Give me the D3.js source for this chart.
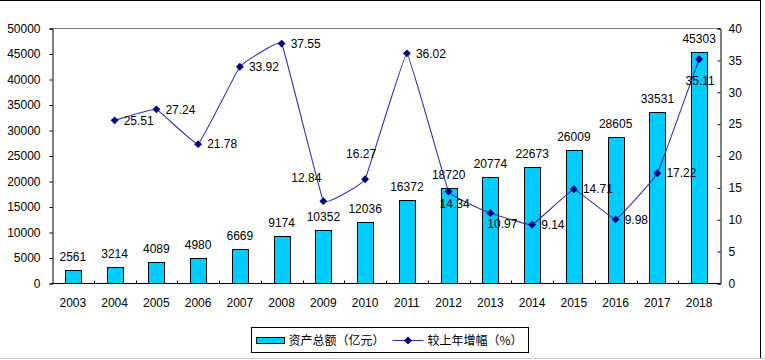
<!DOCTYPE html>
<html>
<head>
<meta charset="utf-8">
<script src="https://cdn.jsdelivr.net/npm/d3@7"></script>
<style>
  body { margin: 0; background: #fff; }
  text { font-family: "Liberation Sans", Arial, sans-serif; font-size: 12px; fill: #000; }
  .cjk { font-family: "Noto Sans CJK SC", sans-serif; }
</style>
</head>
<body>
<svg id="chart" width="765" height="360"></svg>
<script>
const years = ['2003', '2004', '2005', '2006', '2007', '2008', '2009', '2010',
  '2011', '2012', '2013', '2014', '2015', '2016', '2017', '2018'];
const assets = [2561, 3214, 4089, 4980, 6669, 9174, 10352, 12036,
  16372, 18720, 20774, 22673, 26009, 28605, 33531, 45303];
// growth over previous year (%), none for 2003
const growth = [null, 25.51, 27.24, 21.78, 33.92, 37.55, 12.84, 16.27,
  36.02, 14.34, 10.97, 9.14, 14.71, 9.98, 17.22, 35.11];
const leftTicks = [0, 5000, 10000, 15000, 20000, 25000, 30000, 35000, 40000, 45000, 50000];
const rightTicks = [0, 5, 10, 15, 20, 25, 30, 35, 40];
const legendLabels = ['资产总额（亿元）', '较上年增幅（%）'];

// labels that were moved away from the default right-hand spot
const labelShift = {
  '2009': [-17, -23], '2010': [-4, -25], '2012': [6, 12],
  '2013': [12, 11], '2018': [1, 22]
};

const m = { left: 52, right: 720, top: 28, bottom: 283 };
const svg = d3.select('#chart');

// outer frame
svg.append('line').attr('x1', 0).attr('x2', 761).attr('y1', 0.5).attr('y2', 0.5).attr('stroke', '#000');
svg.append('line').attr('x1', 760.5).attr('x2', 760.5).attr('y1', 0).attr('y2', 358).attr('stroke', '#000');
svg.append('line').attr('x1', 0).attr('x2', 765).attr('y1', 358.5).attr('y2', 358.5).attr('stroke', '#c8c8c8');

const x = d3.scaleBand().domain(years).range([m.left, m.right]);
const yL = d3.scaleLinear().domain([0, 50000]).range([m.bottom, m.top]);
const yR = d3.scaleLinear().domain([0, 40]).range([m.bottom, m.top]);

// plot top border
svg.append('line').attr('x1', m.left).attr('x2', m.right)
  .attr('y1', m.top + 0.5).attr('y2', m.top + 0.5).attr('stroke', '#808080');

const axL = svg.append('g').attr('transform', `translate(${m.left + 0.5},0.5)`)
  .call(d3.axisLeft(yL).tickValues(leftTicks).tickSize(3).tickPadding(9).tickFormat(d3.format('d')));
const axR = svg.append('g').attr('transform', `translate(${m.right + 0.5},0.5)`)
  .call(d3.axisRight(yR).tickValues(rightTicks).tickSize(-3).tickPadding(8));
[axL, axR].forEach(a => {
  a.select('.domain').attr('stroke', '#000');
  a.selectAll('line').attr('stroke', '#000');
  a.selectAll('text').style('font-size', '12px').style('font-family', '"Liberation Sans", Arial, sans-serif');
});

const bw = 16;
const bx = d => x(d) + x.bandwidth() / 2;

svg.append('g').selectAll('rect')
  .data(years)
  .join('rect')
    .attr('x', d => Math.round(bx(d) - bw / 2) + 0.5)
    .attr('y', (d, i) => Math.round(yL(assets[i])) + 0.5)
    .attr('width', bw)
    .attr('height', (d, i) => m.bottom - Math.round(yL(assets[i])))
    .attr('fill', '#00ccff')
    .attr('stroke', '#000')
    .attr('stroke-width', 1);

svg.append('g').selectAll('text')
  .data(years)
  .join('text')
    .attr('x', bx)
    .attr('y', (d, i) => yL(assets[i]) - 9)
    .attr('text-anchor', 'middle')
    .text((d, i) => assets[i]);

// x axis line and category separators
const axB = svg.append('g').attr('transform', `translate(0,${m.bottom + 0.5})`);
axB.append('line').attr('x1', m.left).attr('x2', m.right).attr('stroke', '#000');
axB.selectAll('line.sep')
  .data(years.slice(1))
  .join('line')
    .attr('class', 'sep')
    .attr('x1', d => Math.round(x(d)) + 0.5)
    .attr('x2', d => Math.round(x(d)) + 0.5)
    .attr('y1', 0).attr('y2', -3)
    .attr('stroke', '#000');
axB.selectAll('text')
  .data(years)
  .join('text')
    .attr('x', bx)
    .attr('y', 23)
    .attr('text-anchor', 'middle')
    .text(d => d);

// growth line, only lightly smoothed
const pts = years.map((d, i) => ({ year: d, v: growth[i] })).filter(p => p.v !== null);
const line = d3.line()
  .x(p => bx(p.year))
  .y(p => yR(p.v))
  .curve(d3.curveCardinal.tension(0.8));

svg.append('path')
  .datum(pts)
  .attr('d', line)
  .attr('fill', 'none')
  .attr('stroke', '#3333a8')
  .attr('stroke-width', 1.1);

const diamond = d3.symbol().type(d3.symbolDiamond2).size(40);
svg.append('g').selectAll('path')
  .data(pts)
  .join('path')
    .attr('transform', p => `translate(${bx(p.year)},${yR(p.v)})`)
    .attr('d', diamond)
    .attr('fill', '#000080');

svg.append('g').selectAll('text')
  .data(pts)
  .join('text')
    .attr('x', p => bx(p.year) + (labelShift[p.year] ? labelShift[p.year][0] : 9))
    .attr('y', p => yR(p.v) + (labelShift[p.year] ? labelShift[p.year][1] : 0))
    .attr('dy', '0.35em')
    .attr('text-anchor', p => labelShift[p.year] ? 'middle' : 'start')
    .text(p => d3.format('.2f')(p.v));

// legend
const lg = svg.append('g').attr('transform', 'translate(251.5,327.5)');
lg.append('rect').attr('width', 277).attr('height', 25)
  .attr('fill', '#fff').attr('stroke', '#000');
lg.append('rect').attr('x', 5).attr('y', 10).attr('width', 28).attr('height', 6)
  .attr('fill', '#00ccff').attr('stroke', '#000');
lg.append('text').attr('class', 'cjk').attr('x', 37).attr('y', 13).attr('dy', '0.35em')
  .text(legendLabels[0]);
lg.append('line').attr('x1', 141).attr('x2', 172).attr('y1', 13).attr('y2', 13)
  .attr('stroke', '#3333a8').attr('stroke-width', 1.1);
lg.append('path').attr('transform', 'translate(156.5,13)').attr('d', diamond).attr('fill', '#000080');
lg.append('text').attr('class', 'cjk').attr('x', 176).attr('y', 13).attr('dy', '0.35em')
  .text(legendLabels[1]);
</script>
</body>
</html>
